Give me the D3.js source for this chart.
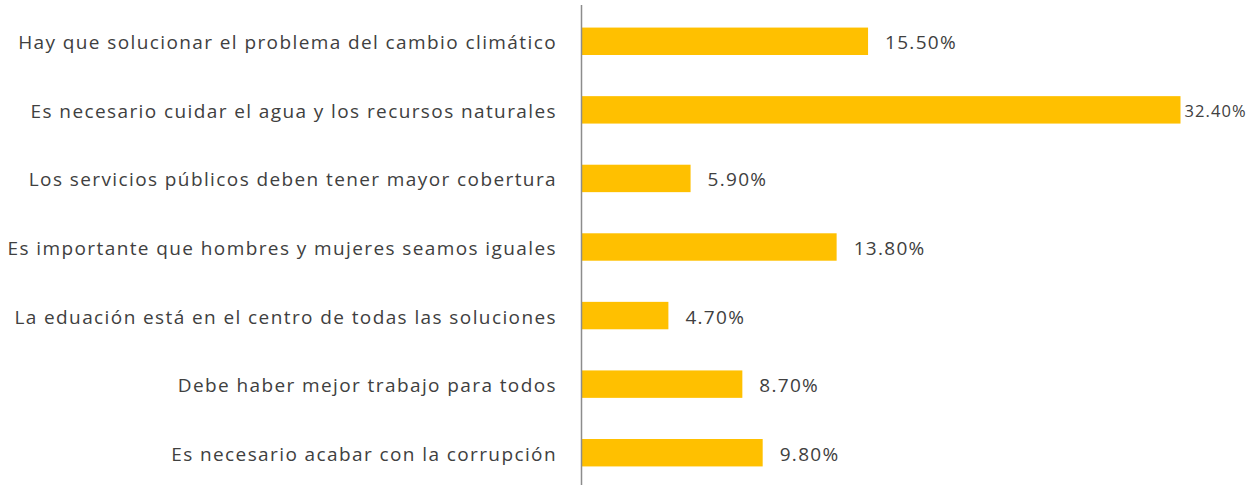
<!DOCTYPE html>
<html>
<head>
<meta charset="utf-8">
<script src="https://cdn.jsdelivr.net/npm/d3@7"></script>
<style>
  body { margin: 0; background: #fff; }
  svg { display: block; }
</style>
</head>
<body>
<svg id="chart" width="1255" height="485"></svg>
<script>
// data
const categories = [
    "Hay que solucionar el problema del cambio climático",
    "Es necesario cuidar el agua y los recursos naturales",
    "Los servicios públicos deben tener mayor cobertura",
    "Es importante que hombres y mujeres seamos iguales",
    "La eduación está en el centro de todas las soluciones",
    "Debe haber mejor trabajo para todos",
    "Es necesario acabar con la corrupción"
]
const values = [15.5, 32.4, 5.9, 13.8, 4.7, 8.7, 9.8]
const valueLabels = ["15.50%", "32.40%", "5.90%", "13.80%", "4.70%", "8.70%", "9.80%"]

const width = 1255,
    height = 485,
    axisX = 581.5,
    barColor = "#FFC000",
    textColor = "#404040",
    font = "Open Sans"

const svg = d3.select("#chart")

const x = d3.scaleLinear()
    .domain([0, d3.max(values)])
    .range([axisX, 1180.5])

const y = d3.scaleBand()
    .domain(categories)
    .range([7, 487])
    .paddingInner(0.6)
    .paddingOuter(0.3)

const rows = categories.map((c, i) => ({ cat: c, value: values[i], label: valueLabels[i] }))
const maxVal = d3.max(values)

// bars
svg.append("g")
    .selectAll("rect")
    .data(rows)
    .join("rect")
        .attr("x", x(0))
        .attr("y", d => y(d.cat))
        .attr("width", d => x(d.value) - x(0))
        .attr("height", y.bandwidth())
        .attr("fill", barColor)

// category labels
svg.append("g")
    .selectAll("text")
    .data(rows)
    .join("text")
        .attr("x", 557)
        .attr("y", d => y(d.cat) + y.bandwidth() / 2 + 1)
        .attr("text-anchor", "end")
        .attr("dominant-baseline", "central")
        .attr("font-family", font)
        .attr("font-size", "19px")
        .attr("letter-spacing", "1.4px")
        .attr("fill", textColor)
        .text(d => d.cat)

// value labels (the one that runs out of room gets tucked in smaller)
svg.append("g")
    .selectAll("text")
    .data(rows)
    .join("text")
        .attr("x", d => x(d.value) + (d.value === maxVal ? 4 : 17))
        .attr("y", d => y(d.cat) + y.bandwidth() / 2 + 1)
        .attr("dominant-baseline", "central")
        .attr("font-family", font)
        .attr("font-size", d => d.value === maxVal ? "16.5px" : "19px")
        .attr("letter-spacing", d => d.value === maxVal ? "1.1px" : "1.3px")
        .attr("fill", textColor)
        .text(d => d.label)

// vertical axis line
svg.append("line")
    .attr("x1", axisX).attr("x2", axisX)
    .attr("y1", 5).attr("y2", height)
    .attr("stroke", "#8c8c8c")
    .attr("stroke-width", 1.5)
</script>
</body>
</html>
